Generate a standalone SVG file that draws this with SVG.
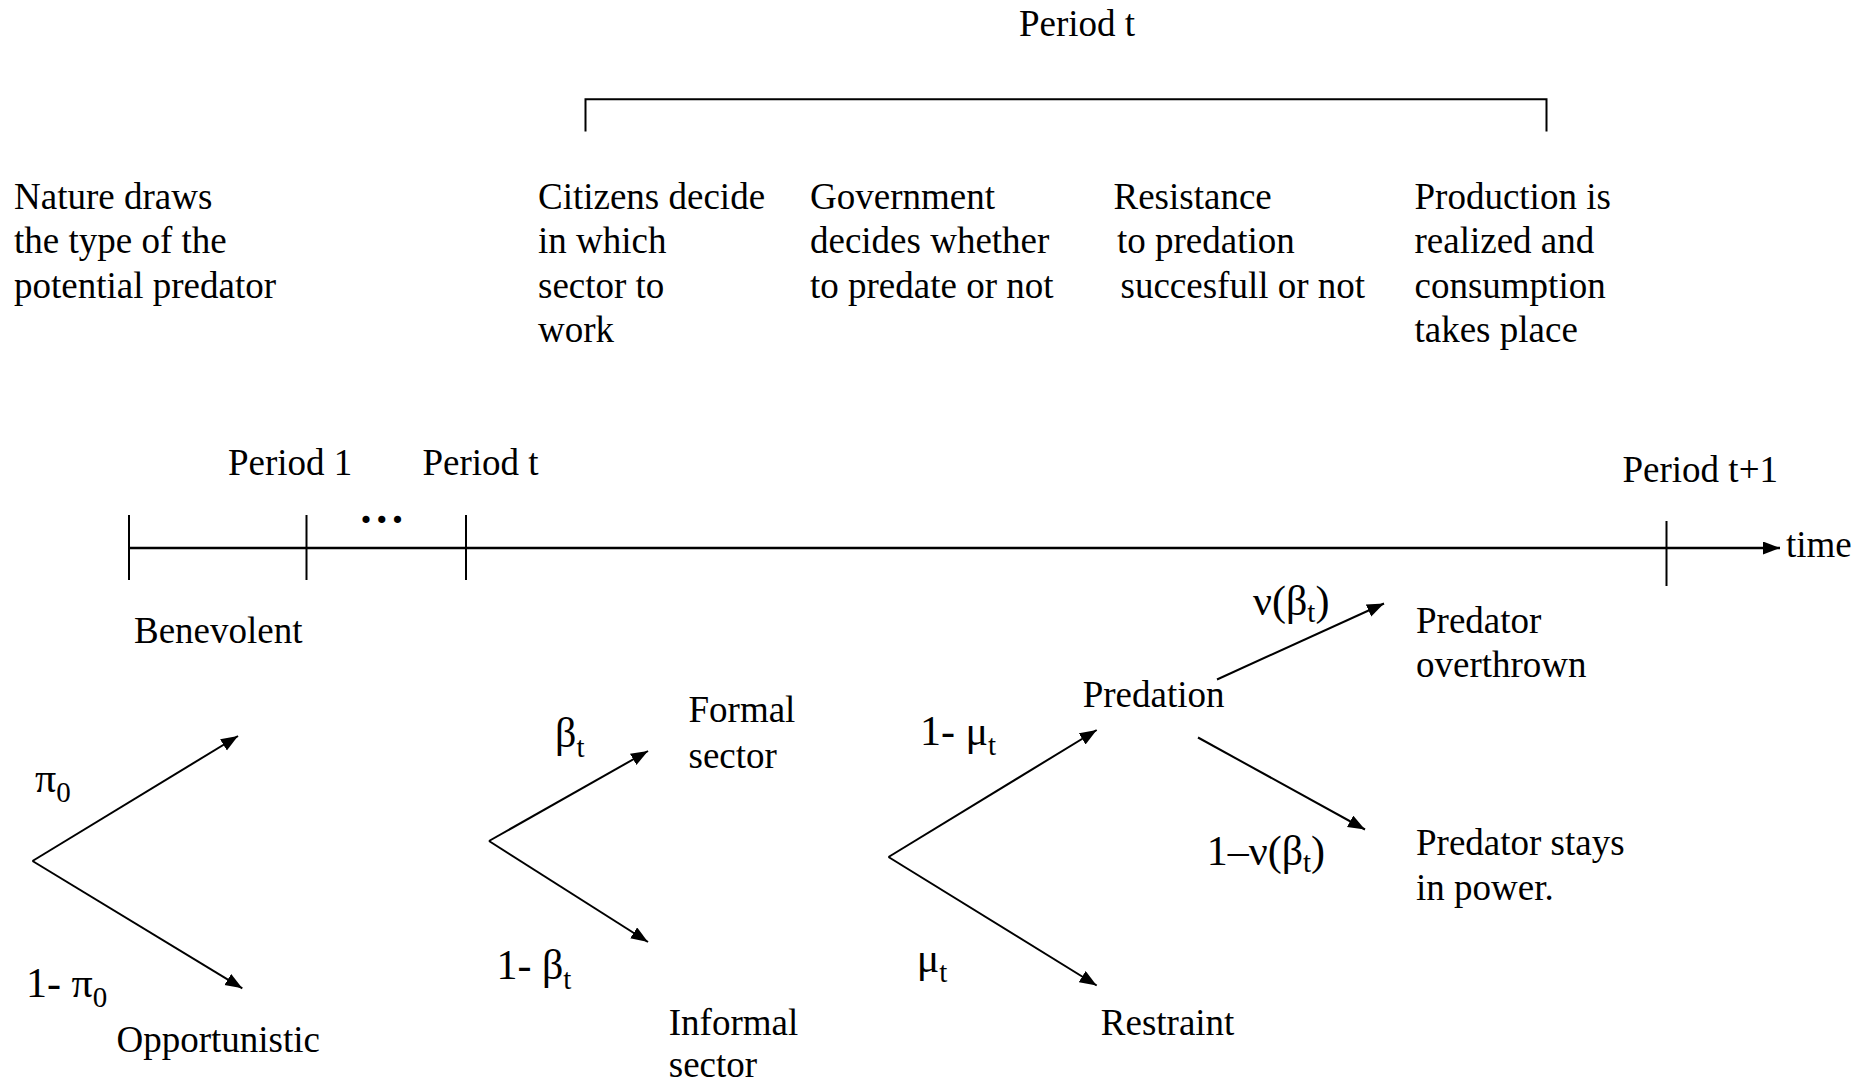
<svg xmlns="http://www.w3.org/2000/svg" width="1874" height="1087" viewBox="0 0 1874 1087">
<style>
text { font-family: "Liberation Serif", "Times New Roman", serif; font-size: 37px; fill: #000; }
.g { font-size: 42px; }
.s { font-size: 29px; }
.ln { stroke: #000; stroke-width: 2; fill: none; }
.tl { stroke: #000; stroke-width: 2.5; fill: none; }
</style>
<defs>
<marker id="ah" markerUnits="userSpaceOnUse" markerWidth="18" markerHeight="14" refX="17" refY="6.5" orient="auto">
<path d="M0,0 L17,6.5 L0,13 z" fill="#000"/>
</marker>
</defs>
<rect width="1874" height="1087" fill="#fff"/>

<g id="period-t-header">
<text x="1019" y="36">Period t</text>
<path class="ln" d="M585.5,131.5 V99.3 H1546.5 V131.5"/>
</g>

<g id="nature-text">
<text x="14" y="208.5">Nature draws</text>
<text x="14" y="253">the type of the</text>
<text x="14" y="297.5">potential predator</text>
</g>
<g id="citizens-text">
<text x="538" y="208.5">Citizens decide</text>
<text x="538" y="253">in which</text>
<text x="538" y="297.5">sector to</text>
<text x="538" y="342">work</text>
</g>
<g id="government-text">
<text x="810" y="208.5">Government</text>
<text x="810" y="253">decides whether</text>
<text x="810" y="297.5">to predate or not</text>
</g>
<g id="resistance-text">
<text x="1113.5" y="208.5">Resistance</text>
<text x="1117" y="253">to predation</text>
<text x="1120.5" y="297.5">succesfull or not</text>
</g>
<g id="production-text">
<text x="1414.5" y="208.5">Production is</text>
<text x="1414.5" y="253">realized and</text>
<text x="1414.5" y="297.5">consumption</text>
<text x="1414.5" y="342">takes place</text>
</g>

<g id="timeline">
<text x="228" y="475">Period 1</text>
<text x="422.5" y="475">Period t</text>
<text x="1622.5" y="482">Period t+1</text>
<text x="360.5" y="523" style="font-size:44px;font-weight:bold;letter-spacing:4.7px">...</text>
<text x="1786" y="557">time</text>
</g>

<g id="benevolent"><text x="134" y="643">Benevolent</text></g>
<g id="opportunistic"><text x="116.5" y="1052">Opportunistic</text></g>
<g id="formal"><text x="688.5" y="722">Formal</text><text x="688.5" y="768">sector</text></g>
<g id="informal"><text x="668.8" y="1035">Informal</text><text x="668.8" y="1077">sector</text></g>
<g id="predation"><text x="1082.7" y="707.3">Predation</text></g>
<g id="restraint"><text x="1100.8" y="1035">Restraint</text></g>
<g id="overthrown"><text x="1416" y="633">Predator</text><text x="1416" y="676.5">overthrown</text></g>
<g id="stays"><text x="1416" y="855">Predator stays</text><text x="1416" y="899.5">in power.</text></g>

<g id="connectors">
<line class="tl" x1="129" y1="548" x2="1780" y2="548" marker-end="url(#ah)"/>
<line class="ln" x1="129" y1="515" x2="129" y2="580"/>
<line class="ln" x1="306.5" y1="515" x2="306.5" y2="580"/>
<line class="ln" x1="466" y1="515" x2="466" y2="580"/>
<line class="ln" x1="1666.5" y1="521" x2="1666.5" y2="586"/>

<line class="ln" x1="32.5" y1="861" x2="238" y2="736" marker-end="url(#ah)"/>
<line class="ln" x1="32.5" y1="861" x2="242.3" y2="988.3" marker-end="url(#ah)"/>
<line class="ln" x1="489" y1="841" x2="648" y2="751" marker-end="url(#ah)"/>
<line class="ln" x1="489" y1="841" x2="648" y2="942" marker-end="url(#ah)"/>
<line class="ln" x1="888.5" y1="857" x2="1096.7" y2="730" marker-end="url(#ah)"/>
<line class="ln" x1="888.5" y1="857" x2="1096.7" y2="985.5" marker-end="url(#ah)"/>
<line class="ln" x1="1217" y1="679.5" x2="1384" y2="603.5" marker-end="url(#ah)"/>
<line class="ln" x1="1198" y1="737.5" x2="1365" y2="829.5" marker-end="url(#ah)"/>
</g>

<g id="labels">
<text class="g" x="35" y="792">π<tspan class="s" dy="10">0</tspan></text>
<text class="g" x="26" y="997">1- π<tspan class="s" dy="10">0</tspan></text>
<text class="g" x="555" y="747">β<tspan class="s" dy="10">t</tspan></text>
<text class="g" x="496.5" y="979">1- β<tspan class="s" dy="10">t</tspan></text>
<text class="g" x="920" y="745">1- μ<tspan class="s" dy="10">t</tspan></text>
<text class="g" x="916.7" y="972">μ<tspan class="s" dy="10">t</tspan></text>
<text class="g" x="1253" y="614.5">ν(β<tspan class="s" dy="7">t</tspan><tspan dy="-7">)</tspan></text>
<text class="g" x="1206.7" y="865">1–ν(β<tspan class="s" dy="7">t</tspan><tspan dy="-7">)</tspan></text>
</g>
</svg>
